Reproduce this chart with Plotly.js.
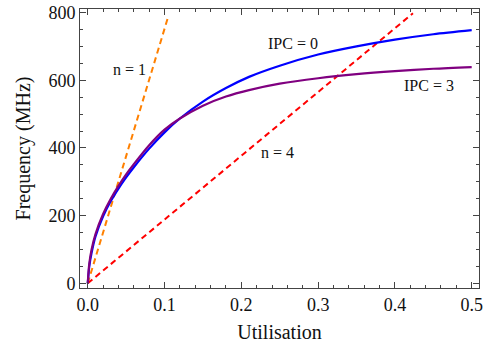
<!DOCTYPE html>
<html>
<head>
<meta charset="utf-8">
<script src="https://cdn.plot.ly/plotly-3.0.1.min.js"></script>
<style>html,body{margin:0;padding:0;background:#fff}#chart{width:494px;height:348px}</style>
</head>
<body>
<div id="chart"></div>
<script>
// Curve samples
const uCurve = [0, 0.002, 0.005, 0.01, 0.02, 0.03, 0.04, 0.05, 0.06, 0.08, 0.10, 0.12, 0.15, 0.18, 0.21, 0.25, 0.30, 0.35, 0.40, 0.45, 0.50];
const freqIPC0 = [0, 50, 90, 138, 198, 243, 280, 313, 343, 398, 446, 487, 537, 577, 610, 643, 676, 700, 720, 736, 748];
const freqIPC3 = [0, 58, 100, 145, 205, 250, 288, 322, 352, 408, 454, 487, 525, 552, 571, 590, 606, 618, 627, 634, 639];
const uN1 = [0, 0.105];
const freqN1 = [0, 790];
const uN4 = [0, 0.4235];
const freqN4 = [0, 798];
const xTickVals = [0, 0.1, 0.2, 0.3, 0.4, 0.5];
const xTickText = ["0.0", "0.1", "0.2", "0.3", "0.4", "0.5"];
const yTickVals = [0, 200, 400, 600, 800];
const yTickText = ["0", "200", "400", "600", "800"];
const labelText = ["n = 1", "IPC = 0", "IPC = 3", "n = 4"];
const labelX = [0.054, 0.267, 0.445, 0.2477];
const labelY = [633, 710, 586, 388];

const serif = "Liberation Serif, Times New Roman, serif";
const traces = [
  {x: uN1, y: freqN1, mode: 'lines', line: {color: '#ff8000', width: 2, dash: '6px,4px'}},
  {x: uN4, y: freqN4, mode: 'lines', line: {color: '#ff0000', width: 2, dash: '6px,4px'}},
  {x: uCurve, y: freqIPC0, mode: 'lines', line: {color: '#0000ff', width: 2.2, shape: 'spline', smoothing: 0.8}},
  {x: uCurve, y: freqIPC3, mode: 'lines', line: {color: '#800080', width: 2.2, shape: 'spline', smoothing: 0.8}}
];
const axisCommon = {
  showgrid: false, zeroline: false, showline: true, linecolor: '#444', linewidth: 1,
  mirror: 'allticks', ticks: 'inside', ticklen: 6, tickwidth: 1, tickcolor: '#444',
  tickfont: {family: serif, size: 18, color: '#111'}
};
const layout = {
  width: 494, height: 348,
  margin: {l: 80, r: 15, t: 9, b: 60},
  paper_bgcolor: '#fff', plot_bgcolor: '#fff',
  showlegend: false,
  xaxis: Object.assign({}, axisCommon, {
    range: [-0.0101, 0.5095], tickvals: xTickVals, ticktext: xTickText,
    minor: {dtick: 0.02, tick0: 0, ticks: 'inside', ticklen: 3, tickcolor: '#444'},
    title: {text: 'Utilisation', font: {family: serif, size: 20, color: '#111'}, standoff: 11}
  }),
  yaxis: Object.assign({}, axisCommon, {
    range: [-13.9, 810.6], tickvals: yTickVals, ticktext: yTickText,
    minor: {dtick: 50, tick0: 0, ticks: 'inside', ticklen: 3, tickcolor: '#444'},
    title: {text: 'Frequency (MHz)', font: {family: serif, size: 20, color: '#111'}, standoff: 12}
  }),
  annotations: labelText.map((t, i) => ({
    x: labelX[i], y: labelY[i], xref: 'x', yref: 'y', text: t, showarrow: false,
    font: {family: serif, size: 16, color: '#111'}
  }))
};
Plotly.newPlot('chart', traces, layout, {displayModeBar: false, staticPlot: true});
</script>
</body>
</html>
